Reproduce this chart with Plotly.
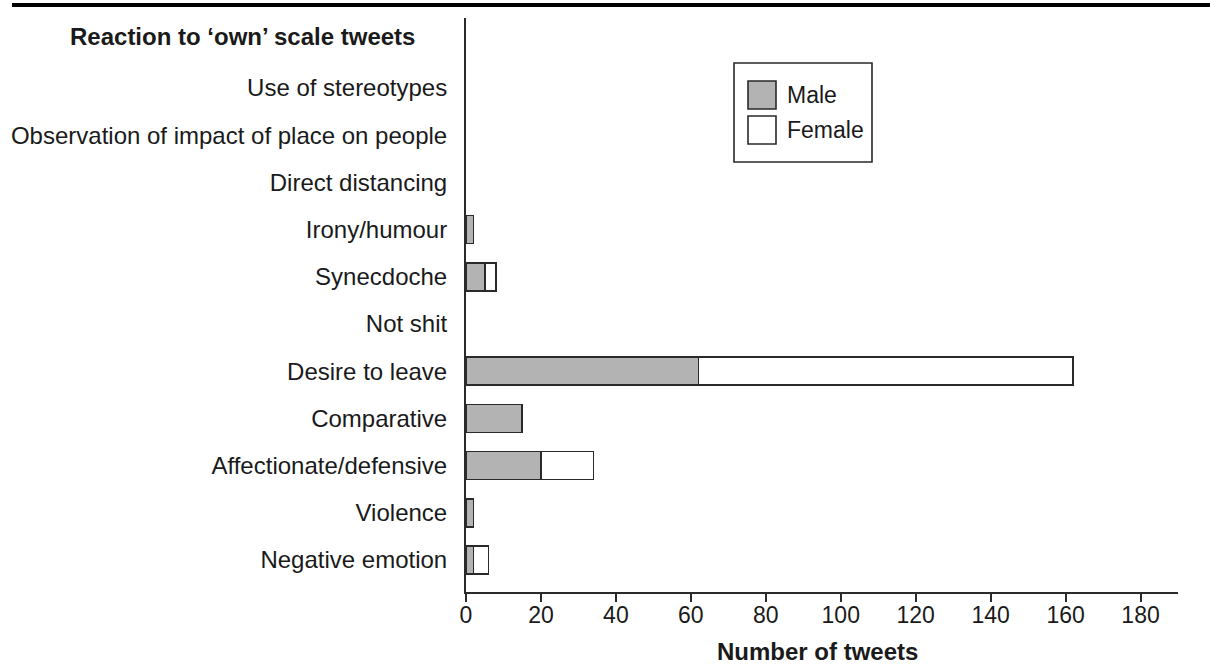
import plotly.graph_objects as go

# ---- data ----
categories = [
    "Negative emotion",
    "Violence",
    "Affectionate/defensive",
    "Comparative",
    "Desire to leave",
    "Not shit",
    "Synecdoche",
    "Irony/humour",
    "Direct distancing",
    "Observation of impact of place on people",
    "Use of stereotypes",
]
male = [2, 2, 20, 15, 62, 0, 5, 2, 0, 0, 0]
female = [4, 0, 14, 0, 100, 0, 3, 0, 0, 0, 0]
x_ticks = [0, 20, 40, 60, 80, 100, 120, 140, 160, 180]
series_names = ["Male", "Female"]
y_title = "Reaction to \u2018own\u2019 scale tweets"
x_title = "Number of tweets"

# ---- geometry helpers (pixel -> paper) ----
W, H = 1210, 668
L, R, T, B = 466, 32, 18, 76
PW, PH = W - L - R, H - T - B


def px(x):
    return (x - L) / PW


def py(y):
    return (H - B - y) / PH


GRAY = "#b3b3b3"
EDGE = "#2a2a2a"
FONT = "Liberation Sans, Arial, Helvetica, sans-serif"
NARROW = "Liberation Sans Narrow, Arial Narrow, Liberation Sans, sans-serif"


def nz(vals):
    return [v if v else None for v in vals]


fig = go.Figure()
fig.add_trace(go.Bar(
    y=categories, x=nz(male), orientation="h", name=series_names[0],
    marker=dict(color=GRAY, line=dict(color=EDGE, width=1.6)),
    showlegend=False,
))
fig.add_trace(go.Bar(
    y=categories, x=nz(female), orientation="h", name=series_names[1],
    marker=dict(color="white", line=dict(color=EDGE, width=1.6)),
    showlegend=False,
))

# y range: category index 0 at px 560, index 10 at px 88
step = (560 - 88) / 10
y_lo = -((H - B) - 560) / step
y_hi = 10 + (88 - T) / step

fig.update_layout(
    width=W, height=H,
    margin=dict(l=L, r=R, t=T, b=B, pad=0),
    paper_bgcolor="white", plot_bgcolor="white",
    barmode="stack", bargap=0.41,
    font=dict(family=FONT, size=24, color="#1a1a1a"),
    xaxis=dict(
        range=[0, 190], tickvals=x_ticks, ticktext=[str(t) for t in x_ticks],
        showgrid=False, zeroline=False, automargin=False,
        showline=True, linecolor=EDGE, linewidth=2,
        ticks="outside", ticklen=8, tickwidth=1.6, tickcolor=EDGE,
        ticklabelstandoff=-7,
        tickfont=dict(family=NARROW, size=23, color="#1a1a1a"),
    ),
    yaxis=dict(
        type="category", categoryorder="array", categoryarray=categories,
        range=[y_lo, y_hi], automargin=False,
        showgrid=False, zeroline=False,
        showline=True, linecolor=EDGE, linewidth=2,
        ticks="", ticklabelstandoff=12,
        tickfont=dict(family=FONT, size=24, color="#1a1a1a"),
    ),
)

# titles
fig.add_annotation(
    text="<b>" + y_title + "</b>", xref="paper", yref="paper",
    x=px(417), y=py(37), xanchor="right", yanchor="middle",
    showarrow=False, font=dict(family=FONT, size=24, color="#1a1a1a"),
)
fig.add_annotation(
    text="<b>" + x_title + "</b>", xref="paper", yref="paper",
    x=px(817), y=py(651), xanchor="center", yanchor="middle",
    showarrow=False, font=dict(family=FONT, size=24, color="#1a1a1a"),
)

# top rule line
fig.add_shape(type="line", xref="paper", yref="paper",
              x0=px(12), x1=px(1210), y0=py(5), y1=py(5),
              line=dict(color="black", width=4))

# manual legend box (large swatches like the reference)
fig.add_shape(type="rect", xref="paper", yref="paper",
              x0=px(734), x1=px(872), y0=py(162), y1=py(63),
              line=dict(color=EDGE, width=1.6), fillcolor="white")
swatches = [(GRAY, 81, 109), ("white", 116, 144)]
for (col, y0, y1), name in zip(swatches, series_names):
    fig.add_shape(type="rect", xref="paper", yref="paper",
                  x0=px(748), x1=px(776), y0=py(y1), y1=py(y0),
                  line=dict(color=EDGE, width=1.6), fillcolor=col)
    fig.add_annotation(
        text=name, xref="paper", yref="paper",
        x=px(785), y=py((y0 + y1) / 2), xanchor="left", yanchor="middle",
        showarrow=False, font=dict(family=FONT, size=23, color="#1a1a1a"),
    )

fig.write_html(
    "out.html",
    config={"displayModeBar": False},
    post_script="document.body.style.margin='0';document.body.style.overflow='hidden';",
)
